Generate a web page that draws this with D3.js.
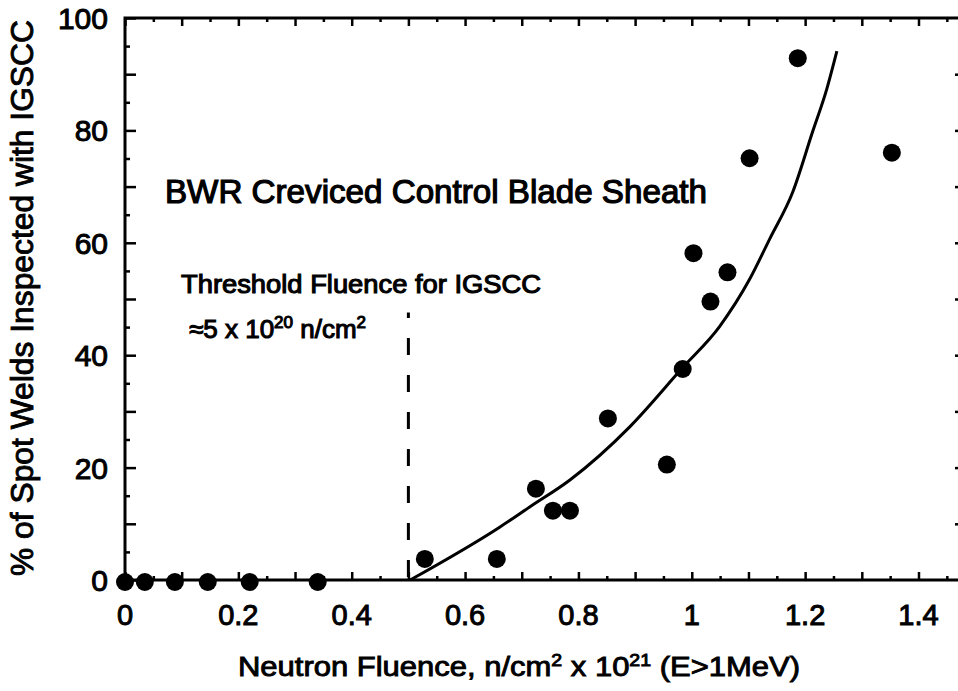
<!DOCTYPE html>
<html>
<head>
<meta charset="utf-8">
<script src="https://cdn.jsdelivr.net/npm/d3@7"></script>
<style>
  body { margin: 0; background: #fff; }
  text { font-family: "Liberation Sans", Arial, sans-serif; fill: #000; }
</style>
</head>
<body>
<div id="chart"></div>
<script>
// Chart size
const width = 958;
const height = 691;
const margin = {top: 18, right: -3, bottom: 111, left: 125};

// Data
const fluence = [0, 0.035, 0.088, 0.146, 0.22, 0.34, 0.529, 0.656, 0.725, 0.755, 0.785,
                 0.852, 0.956, 0.984, 1.003, 1.033, 1.063, 1.102, 1.187, 1.353];
const pctWelds = [0, 0, 0, 0, 0, 0, 4.1, 4.1, 16.6, 12.7, 12.7,
                  29.1, 20.9, 37.9, 58.5, 49.9, 55.1, 75.4, 93.2, 76.4];

// Fitted trend curve
const fitX = [0.503, 0.661, 0.714, 0.785, 0.891, 0.984, 1.049, 1.102, 1.138, 1.178, 1.213, 1.238, 1.256];
const fitY = [0, 9.4, 13, 17.8, 27.3, 37.8, 45.1, 53.5, 60.8, 69.0, 79.7, 87.3, 94.1];

// Threshold marker
const thresholdX = 0.5;
const thresholdTop = 47.6;

const xTickLabels = [0, 0.2, 0.4, 0.6, 0.8, 1, 1.2, 1.4];
const yTickLabels = [0, 20, 40, 60, 80, 100];

const svg = d3.select("#chart")
    .append("svg")
        .attr("width", width)
        .attr("height", height);

const x = d3.scaleLinear()
    .domain([0, 1.475])
    .range([margin.left, width - margin.right]);

const y = d3.scaleLinear()
    .domain([0, 100])
    .range([height - margin.bottom, margin.top]);

const x0 = x.range()[0], x1 = x.range()[1];
const y0 = y.range()[0], y1 = y.range()[1];

// minor/major tick values
const xMajor = d3.range(0, 15).map(i => i / 10);
const xMinor = d3.range(0, 15).map(i => i / 10 + 0.05);
const yMajor = d3.range(0, 11).map(i => i * 10);
const yMinor = d3.range(0, 10).map(i => i * 10 + 5);

function styleAxis(g) {
    g.select(".domain").remove();
    g.selectAll("line").attr("stroke", "#000").attr("stroke-width", 2.5);
}

// Inward ticks on all four sides
svg.append("g").attr("transform", `translate(0,${y0})`)
    .call(d3.axisBottom(x).tickValues(xMajor).tickSize(-8).tickFormat(""))
    .call(styleAxis);
svg.append("g").attr("transform", `translate(0,${y0})`)
    .call(d3.axisBottom(x).tickValues(xMinor).tickSize(-4).tickFormat(""))
    .call(styleAxis);
svg.append("g").attr("transform", `translate(0,${y1})`)
    .call(d3.axisTop(x).tickValues(xMajor).tickSize(-8).tickFormat(""))
    .call(styleAxis);
svg.append("g").attr("transform", `translate(0,${y1})`)
    .call(d3.axisTop(x).tickValues(xMinor).tickSize(-4).tickFormat(""))
    .call(styleAxis);
svg.append("g").attr("transform", `translate(${x0},0)`)
    .call(d3.axisLeft(y).tickValues(yMajor).tickSize(-11).tickFormat(""))
    .call(styleAxis);
svg.append("g").attr("transform", `translate(${x0},0)`)
    .call(d3.axisLeft(y).tickValues(yMinor).tickSize(-5).tickFormat(""))
    .call(styleAxis);
svg.append("g").attr("transform", `translate(${x1},0)`)
    .call(d3.axisRight(y).tickValues(yMajor.slice(1, -1)).tickSize(-6).tickFormat(""))
    .call(styleAxis);

// Frame
svg.append("rect")
    .attr("x", x0)
    .attr("y", y1)
    .attr("width", x1 - x0)
    .attr("height", y0 - y1)
    .attr("fill", "none")
    .attr("stroke", "#000")
    .attr("stroke-width", 3);

// Tick labels
svg.append("g")
    .selectAll("text")
    .data(xTickLabels)
    .join("text")
        .attr("x", d => x(d))
        .attr("y", y0 + 45)
        .attr("text-anchor", "middle")
        .style("font-size", "29px")
        .style("stroke", "#000")
        .style("stroke-width", 1)
        .text(d => d3.format("")(d));

svg.append("g")
    .selectAll("text")
    .data(yTickLabels)
    .join("text")
        .attr("x", x0 - 17)
        .attr("y", d => y(d) + 11)
        .attr("text-anchor", "end")
        .style("font-size", "30px")
        .style("stroke", "#000")
        .style("stroke-width", 1)
        .text(d => d);

// Threshold dashed line
svg.append("line")
    .attr("x1", x(thresholdX))
    .attr("x2", x(thresholdX))
    .attr("y1", y(0) - 3)
    .attr("y2", y(thresholdTop))
    .attr("stroke", "#000")
    .attr("stroke-width", 3)
    .attr("stroke-dasharray", "17,20");

// Fitted curve
const line = d3.line()
    .x(d => x(d[0]))
    .y(d => y(d[1]))
    .curve(d3.curveMonotoneX);

svg.append("path")
    .datum(d3.zip(fitX, fitY))
    .attr("d", line)
    .attr("fill", "none")
    .attr("stroke", "#000")
    .attr("stroke-width", 3);

// Data points
svg.append("g")
    .selectAll("circle")
    .data(d3.zip(fluence, pctWelds))
    .join("circle")
        .attr("cx", d => x(d[0]))
        .attr("cy", d => y(d[1]) + 2)
        .attr("r", 9)
        .attr("fill", "#000");

// Annotations
svg.append("text")
    .attr("x", 165)
    .attr("y", 203)
    .attr("textLength", 542)
    .attr("lengthAdjust", "spacingAndGlyphs")
    .style("font-size", "33px")
    .style("stroke", "#000")
    .style("stroke-width", 1.2)
    .text("BWR Creviced Control Blade Sheath");

svg.append("text")
    .attr("x", 181)
    .attr("y", 293)
    .attr("textLength", 360)
    .attr("lengthAdjust", "spacingAndGlyphs")
    .style("font-size", "26px")
    .style("stroke", "#000")
    .style("stroke-width", 1.1)
    .text("Threshold Fluence for IGSCC");

const thr = svg.append("text")
    .attr("x", 189)
    .attr("y", 338)
    .style("font-size", "26px")
    .style("stroke", "#000")
    .style("stroke-width", 1.1);
thr.append("tspan").text("≈5 x 10");
thr.append("tspan").attr("dy", -10).style("font-size", "17px").text("20");
thr.append("tspan").attr("dy", 10).text(" n/cm");
thr.append("tspan").attr("dy", -10).style("font-size", "17px").text("2");

// Axis titles
const xt = svg.append("text")
    .attr("x", 238)
    .attr("y", 676)
    .attr("textLength", 562)
    .attr("lengthAdjust", "spacingAndGlyphs")
    .style("font-size", "27px")
    .style("stroke", "#000")
    .style("stroke-width", 0.9);
xt.append("tspan").text("Neutron Fluence,  n/cm");
xt.append("tspan").attr("dy", -10).style("font-size", "17px").text("2");
xt.append("tspan").attr("dy", 10).text(" x 10");
xt.append("tspan").attr("dy", -10).style("font-size", "17px").text("21");
xt.append("tspan").attr("dy", 10).text("  (E>1MeV)");

svg.append("text")
    .attr("transform", `translate(33,${(20 + 576) / 2}) rotate(-90)`)
    .attr("text-anchor", "middle")
    .attr("textLength", 556)
    .attr("lengthAdjust", "spacingAndGlyphs")
    .style("font-size", "31px")
    .style("stroke", "#000")
    .style("stroke-width", 0.9)
    .text("% of Spot Welds Inspected with IGSCC");
</script>
</body>
</html>
